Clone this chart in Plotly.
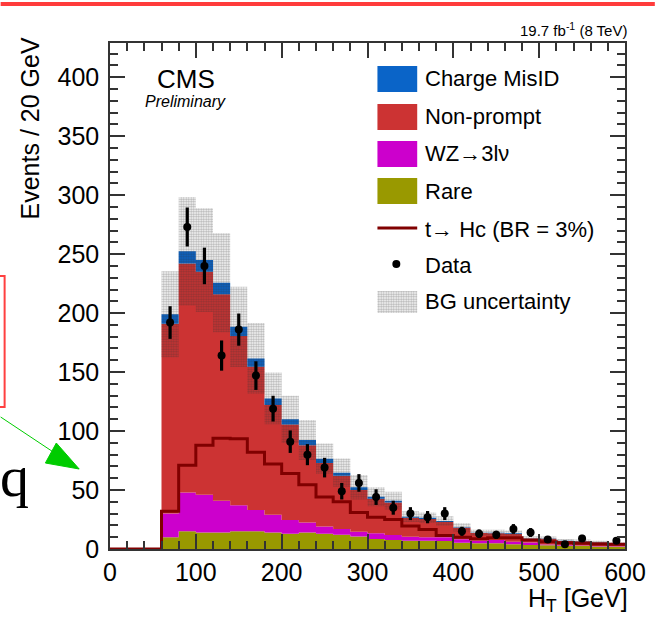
import numpy as np
import plotly.graph_objects as go

# H_T distribution, 20 GeV bins from 60 to 600 GeV
bin_lo = 60
bin_width = 20
rare = [10, 15, 14, 14, 15, 15, 14, 13, 14, 13, 12, 10.5, 8.5, 7.6, 7.0, 7.0, 6.8,
        5.4, 4.8, 4.8, 4.0, 3.4, 3.1, 2.8, 2.5, 2.2, 2.0]
wz = [20, 33, 32, 27, 22, 18, 15, 11.5, 8.5, 6.0, 5.0, 4.2, 4.8, 4.3, 3.4, 2.9, 3.1,
      2.8, 2.2, 2.8, 2.2, 2.1, 0.7, 0.6, 0.5, 0.4, 0.3]
nonprompt = [161, 194, 189, 175, 143.5, 121.5, 93, 81, 65.5, 54, 45, 35.3, 29.2, 27.6,
             16.1, 15.6, 12.9, 9.8, 6.5, 5.7, 6.6, 3.2, 4.9, 3.4, 3.6, 3.1, 2.3]
charge_misid = [8, 10.5, 10, 9.7, 7.9, 7.1, 5.7, 4.4, 4.4, 3.5, 2.7, 2.3, 1.8, 1.5, 0.9,
                1.0, 0.9, 0.4, 0.3, 0.5, 0.5, 0.3, 0.3, 0.2, 0.2, 0.2, 0.2]
bg_unc = [36.5, 46, 44, 42, 34, 30, 22, 20, 17, 13, 12, 10.4, 8, 7.6, 4.6, 4.5, 4.0,
          3.5, 2.5, 2.5, 2.3, 1.8, 1.7, 1.4, 1.3, 1.2, 1.0]
signal = [32, 71, 88, 94, 93.5, 82, 72, 64, 54.5, 44, 40, 31, 27, 25, 19.5, 16.5, 11.5,
          10, 8.7, 9.5, 9.5, 7.6, 6.2, 5.4, 4.8, 4.2, 4.0]
data = [192, 273, 240, 164, 186, 147, 119, 91, 80, 69, 49, 56, 44, 35, 30, 27, 30,
        15, 13, 12, 17, 14, 8, 4, 9, None, 7]

x_ticks = [0, 100, 200, 300, 400, 500, 600]
y_ticks = [0, 50, 100, 150, 200, 250, 300, 350, 400]

COL_CMID = "#0a64c8"
COL_NP = "#cc3333"
COL_WZ = "#cc00cc"
COL_RARE = "#999900"
COL_SIG = "#800000"
HATCH = dict(shape=".", fgcolor="rgba(50,50,50,0.75)", bgcolor="rgba(0,0,0,0)",
             size=2.5, solidity=0.55, fillmode="overlay")

n = len(rare)
edges = bin_lo + bin_width * np.arange(n + 1)
centers = edges[:-1] + bin_width / 2


def step(vals):
    v = list(vals)
    return list(edges), v + [v[-1]]


layers = [rare, wz, nonprompt, charge_misid]
colors = [COL_RARE, COL_WZ, COL_NP, COL_CMID]
cum = np.cumsum(np.array(layers, dtype=float), axis=0)
total = cum[-1]

fig = go.Figure()

for i, (top, col) in enumerate(zip(cum, colors)):
    xs, ys = step(top)
    fig.add_trace(go.Scatter(
        x=xs, y=ys, mode="lines", line=dict(width=0, shape="hv"),
        fill="tozeroy" if i == 0 else "tonexty", fillcolor=col,
        hoverinfo="skip", showlegend=False))

# background uncertainty band
unc = np.array(bg_unc)
xs, ys = step(total - unc)
fig.add_trace(go.Scatter(x=xs, y=ys, mode="lines", line=dict(width=0, shape="hv"),
                         hoverinfo="skip", showlegend=False))
xs, ys = step(total + unc)
fig.add_trace(go.Scatter(
    x=xs, y=ys, mode="lines", line=dict(width=0, shape="hv"), fill="tonexty",
    fillcolor="rgba(0,0,0,0)", fillpattern=HATCH,
    hoverinfo="skip", showlegend=False))

# signal, including the empty bins below 60 GeV
sig_x = [0] + list(edges)
sig_y = [0] + list(signal) + [signal[-1]]
fig.add_trace(go.Scatter(x=sig_x, y=sig_y, mode="lines",
                         line=dict(color=COL_SIG, width=3, shape="hv"),
                         hoverinfo="skip", showlegend=False))

# data points with Poisson errors
err = [np.sqrt(d) if d is not None else None for d in data]
fig.add_trace(go.Scatter(
    x=centers, y=data, mode="markers",
    marker=dict(color="black", size=8, symbol="circle"),
    error_y=dict(type="data", array=err, visible=True, color="black",
                 thickness=3.2, width=0),
    showlegend=False))

# ---- legend drawn on an overlay axis spanning the plot area ----
X0, Y0, W, H = 110, 549, 518, 506


def u(px):
    return (px - X0) / W


def v(py):
    return (Y0 - py) / H


box_l, box_r = u(379), u(419)
boxes = [(66, 92, COL_CMID), (104, 130, COL_NP), (141, 167, COL_WZ), (178, 204, COL_RARE)]
for top_px, bot_px, col in boxes:
    fig.add_trace(go.Scatter(
        x=[box_l, box_r, box_r, box_l, box_l],
        y=[v(top_px), v(top_px), v(bot_px), v(bot_px), v(top_px)],
        mode="lines", line=dict(width=0), fill="toself", fillcolor=col,
        xaxis="x2", yaxis="y2", hoverinfo="skip", showlegend=False))

fig.add_trace(go.Scatter(x=[box_l, box_r], y=[v(228), v(228)], mode="lines",
                         line=dict(color=COL_SIG, width=3),
                         xaxis="x2", yaxis="y2", hoverinfo="skip", showlegend=False))
fig.add_trace(go.Scatter(x=[u(398)], y=[v(264)], mode="markers",
                         marker=dict(color="black", size=8),
                         xaxis="x2", yaxis="y2", hoverinfo="skip", showlegend=False))
fig.add_trace(go.Scatter(
    x=[box_l, box_r, box_r, box_l, box_l],
    y=[v(291), v(291), v(313), v(313), v(291)],
    mode="lines", line=dict(width=0), fill="toself", fillcolor="rgba(0,0,0,0)",
    fillpattern=HATCH,
    xaxis="x2", yaxis="y2", hoverinfo="skip", showlegend=False))

FONT = "Liberation Sans, Arial, Helvetica, sans-serif"
labels = ["Charge MisID", "Non-prompt", "WZ\u21923l\u03bd", "Rare",
          "t\u2192 Hc (BR = 3%)", "Data", "BG uncertainty"]
label_y = [78, 116, 154, 191, 229, 265, 302]
annotations = []
for txt, ly in zip(labels, label_y):
    annotations.append(dict(x=u(425), y=v(ly), xref="paper", yref="paper", text=txt,
                            showarrow=False, xanchor="left", yanchor="middle",
                            font=dict(family=FONT, size=22, color="black")))

annotations += [
    dict(x=u(186), y=v(79), xref="paper", yref="paper", text="CMS", showarrow=False,
         xanchor="center", yanchor="middle", font=dict(family=FONT, size=26, color="black")),
    dict(x=u(186), y=v(101), xref="paper", yref="paper", text="<i>Preliminary</i>",
         showarrow=False, xanchor="center", yanchor="middle",
         font=dict(family=FONT, size=16, color="black")),
    dict(x=u(632), y=v(30), xref="paper", yref="paper",
         text="19.7 fb<sup>-1</sup> (8 TeV)", showarrow=False, xanchor="right",
         yanchor="middle", font=dict(family=FONT, size=15, color="black")),
    dict(x=u(633), y=v(600), xref="paper", yref="paper", text="H<sub>T</sub> [GeV]",
         showarrow=False, xanchor="right", yanchor="middle",
         font=dict(family=FONT, size=25, color="black")),
    dict(x=u(30), y=v(128), xref="paper", yref="paper", text="Events / 20 GeV",
         showarrow=False, textangle=-90, xanchor="center", yanchor="middle",
         font=dict(family=FONT, size=25, color="black")),
    dict(x=u(-3), y=v(476), xref="paper", yref="paper", text="q", showarrow=False,
         xanchor="left", yanchor="middle",
         font=dict(family="Liberation Serif, DejaVu Serif, serif", size=58, color="black")),
]

shapes = [
    # red rule across the top
    dict(type="line", xref="paper", yref="paper", x0=u(0), x1=u(658), y0=v(4), y1=v(4),
         line=dict(color="#ff3b3b", width=4)),
    # red frame at the left edge
    dict(type="rect", xref="paper", yref="paper", x0=u(-20), x1=u(4), y0=v(407), y1=v(276),
         line=dict(color="#ff4040", width=2)),
    # green pointer
    dict(type="line", xref="paper", yref="paper", x0=u(0), y0=v(417), x1=u(62), y1=v(458),
         line=dict(color="#00cc00", width=1)),
    dict(type="path", xref="paper", yref="paper",
         path=f"M {u(79)} {v(469)} L {u(45)} {v(463)} L {u(56)} {v(443)} Z",
         fillcolor="#00cc00", line=dict(color="#00cc00", width=1)),
]

axis_common = dict(showline=True, linecolor="#333333", linewidth=1.5, mirror="allticks",
                   ticks="inside", tickcolor="#333333", tickwidth=1.5, ticklen=15,
                   showgrid=False, zeroline=False,
                   tickfont=dict(family=FONT, size=25, color="black"))

fig.update_layout(
    width=658, height=620,
    margin=dict(l=110, r=30, t=43, b=71),
    paper_bgcolor="white", plot_bgcolor="white",
    xaxis=dict(range=[0, 600], tickvals=x_ticks, ticktext=[str(t) for t in x_ticks],
               minor=dict(dtick=20, ticklen=8, ticks="inside", tickcolor="#333333",
                          tickwidth=1.5), **axis_common),
    yaxis=dict(range=[0, 429], tickvals=y_ticks, ticktext=[str(t) for t in y_ticks],
               minor=dict(dtick=10, ticklen=8, ticks="inside", tickcolor="#333333",
                          tickwidth=1.5), ticklabelstandoff=4, **axis_common),
    xaxis2=dict(range=[0, 1], overlaying="x", visible=False, fixedrange=True),
    yaxis2=dict(range=[0, 1], overlaying="y", visible=False, fixedrange=True),
    annotations=annotations,
    shapes=shapes,
    showlegend=False,
)

fig.write_html("out.html")
